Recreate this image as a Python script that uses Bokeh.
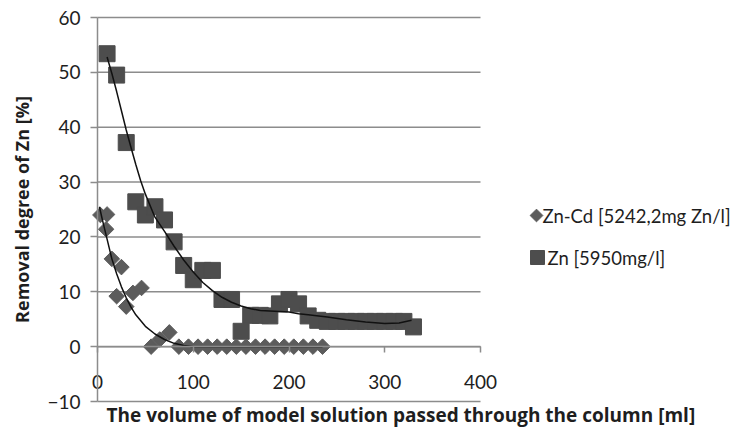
from bokeh.plotting import figure
from bokeh.models import Range1d, Label, FixedTicker
from bokeh.core.properties import value
from bokeh.embed import file_html
from bokeh.resources import INLINE
import math

# ---- data ----
zncd_x = [3, 10, 9, 15, 25, 20, 30, 37, 46, 56, 65, 75, 85, 95, 105, 115, 125, 135, 145,
          155, 165, 175, 185, 195, 205, 215, 225, 235]
zncd_y = [24.0, 24.1, 21.4, 16.0, 14.5, 9.2, 7.3, 9.8, 10.7, 0.0, 1.3, 2.6, 0.0, 0.0, 0.0,
          0.0, 0.0, 0.0, 0.0, 0.0, 0.0, 0.0, 0.0, 0.0, 0.0, 0.0, 0.0, 0.0]

zn_x = [10, 20, 30, 40, 50, 60, 70, 80, 90, 100, 110, 120, 130, 140, 150, 160, 170, 180,
        190, 200, 210, 220, 230, 240, 250, 260, 270, 280, 290, 300, 310, 320, 330]
zn_y = [53.4, 49.5, 37.2, 26.4, 24.0, 25.5, 23.1, 19.1, 14.8, 12.2, 13.9, 13.9, 8.6, 8.6,
        2.8, 5.7, 5.7, 5.6, 7.8, 8.6, 7.8, 5.6, 4.8, 4.6, 4.6, 4.6, 4.6, 4.6, 4.6, 4.6,
        4.6, 4.6, 3.6]

# trend lines
zncd_fit_x = [2, 5, 10, 15, 20, 25, 30, 35, 40, 50, 60, 70, 80, 90, 100, 120, 150, 200, 235]
zncd_fit_y = [25.5, 23.2, 19.6, 16.0, 13.3, 10.9, 8.9, 7.2, 5.8, 3.7, 2.3, 1.3, 0.6, 0.2,
              0.0, 0.0, 0.0, 0.0, 0.0]
zn_fit_x = [10, 15, 20, 25, 30, 35, 40, 45, 50, 60, 70, 80, 90, 100, 110, 120, 130, 140,
            150, 160, 170, 180, 190, 200, 210, 220, 240, 260, 280, 300, 315, 328]
zn_fit_y = [52.8, 49.8, 46.5, 43.0, 39.5, 36.3, 33.2, 30.3, 27.8, 23.6, 21.0, 18.3, 15.8,
            13.6, 11.7, 10.2, 9.0, 8.1, 7.4, 6.9, 6.6, 6.5, 6.4, 6.3, 6.0, 5.8, 5.4, 4.9,
            4.5, 4.2, 4.3, 4.8]

x_ticks = [0, 100, 200, 300, 400]
y_ticks = [-10, 0, 10, 20, 30, 40, 50, 60]

label_zncd = "Zn-Cd [5242,2mg Zn/l]"
label_zn = "Zn [5950mg/l]"
x_title = "The volume of model solution passed through the column [ml]"
y_title = "Removal degree of Zn [%]"

# ---- layout (figure pixels) ----
W, H = 738, 427
PX_X0, PX_X1 = 97.0, 480.0     # pixel of x=0 and x=400
PX_YT, PX_YB = 17.0, 401.0     # pixel of y=60 and y=-10
sx = (PX_X1 - PX_X0) / (x_ticks[-1] - x_ticks[0])
sy = (PX_YB - PX_YT) / (y_ticks[-1] - y_ticks[0])
x_start = x_ticks[0] - PX_X0 / sx
x_end = x_ticks[0] + (W - PX_X0) / sx
y_end = y_ticks[-1] + PX_YT / sy
y_start = y_ticks[-1] - (H - PX_YT) / sy


def dx(px):
    return x_ticks[0] + (px - PX_X0) / sx


def dy(py):
    return y_ticks[-1] - (py - PX_YT) / sy


FONT = "Lato"
TFONT = "Open Sans"
GRID = "#8c8c8c"
TXT = "#1e1e1e"

p = figure(width=W, height=H, output_backend="svg", toolbar_location=None,
           x_range=Range1d(x_start, x_end), y_range=Range1d(y_start, y_end),
           min_border=0, min_border_left=0, min_border_right=0,
           min_border_top=0, min_border_bottom=0)
p.outline_line_color = None
p.background_fill_color = "white"
p.border_fill_color = "white"
p.xgrid.visible = False
p.ygrid.visible = False

# horizontal gridlines (only across the plot area)
p.segment(x0=[x_ticks[0]] * len(y_ticks), x1=[x_ticks[-1]] * len(y_ticks),
          y0=y_ticks, y1=y_ticks, line_color=GRID, line_width=1.5)

# y axis at x = 0
p.yaxis.fixed_location = 0
p.yaxis.bounds = (y_ticks[0], y_ticks[-1])
p.yaxis.ticker = FixedTicker(ticks=y_ticks)
p.yaxis.axis_line_color = GRID
p.yaxis.axis_line_width = 1.5
p.yaxis.major_tick_line_color = GRID
p.yaxis.major_tick_line_width = 1.5
p.yaxis.major_tick_out = 7
p.yaxis.major_tick_in = 0
p.yaxis.minor_tick_line_color = None
p.yaxis.major_label_text_font = FONT
p.yaxis.major_label_text_font_size = "19px"
p.yaxis.major_label_text_color = TXT
p.yaxis.major_label_standoff = 10

# x axis at y = 0
p.xaxis.fixed_location = 0
p.xaxis.bounds = (x_ticks[0], x_ticks[-1])
p.xaxis.ticker = FixedTicker(ticks=x_ticks)
p.xaxis.axis_line_color = GRID
p.xaxis.axis_line_width = 1.5
p.xaxis.major_tick_line_color = GRID
p.xaxis.major_tick_line_width = 1.5
p.xaxis.major_tick_out = 6
p.xaxis.major_tick_in = 0
p.xaxis.minor_tick_line_color = None
p.xaxis.major_label_text_font = FONT
p.xaxis.major_label_text_font_size = "19px"
p.xaxis.major_label_text_color = TXT
p.xaxis.major_label_standoff = 22

# markers
p.scatter(zn_x, zn_y, marker="square", size=16, fill_color="#4d4d4d", line_color="#4d4d4d")
p.scatter(zncd_x, zncd_y, marker="square", angle=math.pi / 4, size=11,
          fill_color="#5c5c5c", line_color="#5c5c5c")

# trend lines
p.line(zncd_fit_x, zncd_fit_y, line_color="#111111", line_width=1.5)
p.line(zn_fit_x, zn_fit_y, line_color="#111111", line_width=1.5)

# legend (drawn at fixed pixel positions to the right of the plot area)
p.scatter([dx(536)], [dy(215)], marker="square", angle=math.pi / 4, size=9,
          fill_color="#5c5c5c", line_color="#5c5c5c")
p.scatter([dx(537)], [dy(257)], marker="square", size=14,
          fill_color="#4d4d4d", line_color="#4d4d4d")
p.text(x=[dx(542), dx(547)], y=[dy(215), dy(257)], text=[label_zncd, label_zn],
       text_font=value(FONT), text_font_size="18.5px", text_color=TXT,
       text_align="left", text_baseline="middle")

# axis titles
p.add_layout(Label(x=106, y=H - 414, x_units="screen", y_units="screen",
                   text=x_title, text_font=TFONT, text_font_style="bold",
                   text_font_size="19px", text_color=TXT,
                   text_align="left", text_baseline="middle"))
p.add_layout(Label(x=21, y=H - (PX_YT + PX_YB) / 2, x_units="screen", y_units="screen",
                   angle=math.pi / 2, text=y_title, text_font=TFONT,
                   text_font_style="bold", text_font_size="18px", text_color=TXT,
                   text_align="center", text_baseline="middle"))

open("out.html", "w").write(file_html(p, INLINE))
